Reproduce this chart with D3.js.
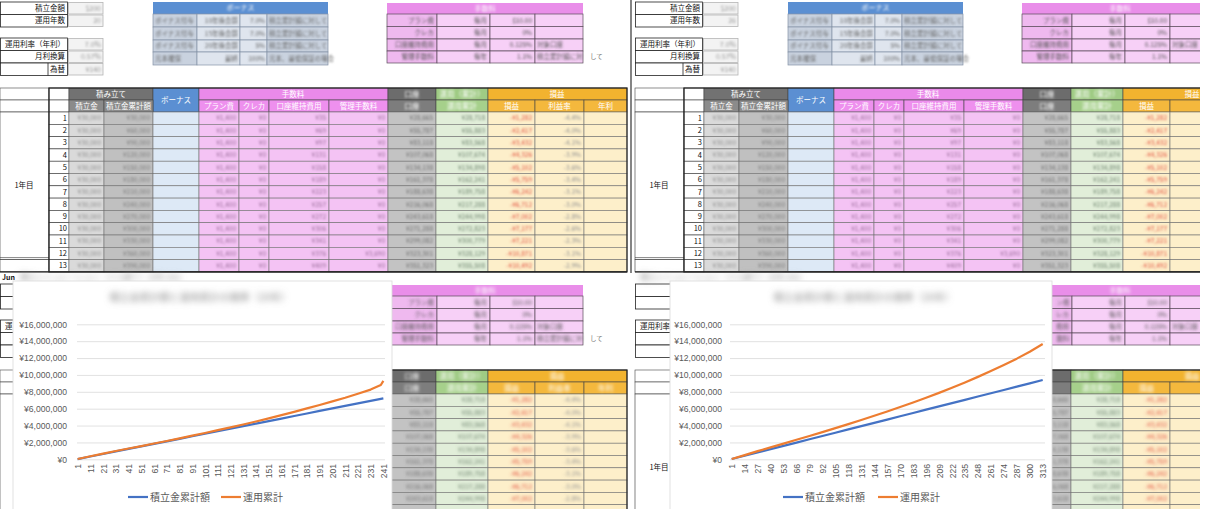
<!DOCTYPE html>
<html><head><meta charset="utf-8">
<script src="https://cdn.jsdelivr.net/npm/d3@7"></script>
<style>
html,body{margin:0;padding:0;background:#fff;overflow:hidden}
svg{display:block;font-family:"Noto Sans CJK JP","Liberation Sans",sans-serif}
</style>
</head><body>
<svg id="c" width="1220" height="509"></svg>
<script>
// ---------- chart data ----------
const yTicks = [0,2000000,4000000,6000000,8000000,10000000,12000000,14000000,16000000];
const seriesNames = ["積立金累計額","運用累計"];
const seriesColors = ["#4472c4","#ed7d31"];

const leftTickLabels = [1,11,21,31,41,51,61,71,81,91,101,111,121,131,141,151,161,171,181,191,201,211,221,231,241];
const leftMonths  = [1,11,21,31,41,51,61,71,81,91,101,111,121,131,141,151,161,171,181,191,201,211,221,231,239,241];
const leftDeposit = [30000,330000,630000,930000,1230000,1530000,1830000,2130000,2430000,2730000,3030000,3330000,3630000,3930000,4230000,4530000,4830000,5130000,5430000,5730000,6030000,6330000,6630000,6930000,7170000,7230000];
const leftInvest  = [30000,360000,670000,980000,1280000,1570000,1870000,2170000,2480000,2800000,3120000,3450000,3780000,4130000,4480000,4850000,5230000,5620000,6030000,6440000,6870000,7300000,7770000,8260000,8800000,9300000];

const rightTickLabels = [1,14,27,40,53,66,79,92,105,118,131,144,157,170,183,196,209,222,235,248,261,274,287,300,313];
const rightMonths  = [1,14,27,40,53,66,79,92,105,118,131,144,157,170,183,196,209,222,235,248,261,274,287,300,313];
const rightDeposit = [30000,420000,810000,1200000,1590000,1980000,2370000,2760000,3150000,3540000,3930000,4320000,4710000,5100000,5490000,5880000,6270000,6660000,7050000,7440000,7830000,8220000,8610000,9000000,9400000];
const rightInvest  = [30000,500000,970000,1410000,1860000,2310000,2760000,3220000,3690000,4170000,4660000,5160000,5670000,6190000,6730000,7290000,7870000,8480000,9110000,9770000,10460000,11180000,11930000,12750000,13660000];

// ---------- spreadsheet texts (background) ----------
const sheetLabels = ["積立金額","運用年数","運用利率（年利）","月利換算","為替"];
const sheetValuesL = ["$200","20","7.0%","0.57%","¥140"];
const sheetValuesR = ["$200","26","7.0%","0.57%","¥140"];
const bonusHead = "ボーナス";
const bonusRows = [["ボイナス付与","10年後合算","7.0%","積立累計額に対して"],["ボイナス付与","15年後合算","7.0%","積立累計額に対して"],["ボイナス付与","20年後合算","5%","積立累計額に対して"],["元本確保","最終","100%","元本、最低保証の場合"]];
const feeHead = "手数料";
const feeRows = [["プラン費","毎月","$10.00",""],["クレカ","毎月","0%",""],["口座維持費用","毎月","0.125%","対象口座"],["管理手数料","毎年","1.1%","積立累計額に対"]];
const head1 = ["積み立て","ボーナス","手数料","口座","運用（累計）","損益"];
const head2 = ["積立金","積立金累計額","プラン費","クレカ","口座維持費用","管理手数料","口座","運用累計","損益","利益率","年利"];
const rowNums = [1,2,3,4,5,6,7,8,9,10,11,12,13];
const colDeposit = ["¥30,000","¥30,000","¥30,000","¥30,000","¥30,000","¥30,000","¥30,000","¥30,000","¥30,000","¥30,000","¥30,000","¥30,000","¥30,000"];
const colCum = ["¥30,000","¥60,000","¥90,000","¥120,000","¥150,000","¥180,000","¥210,000","¥240,000","¥270,000","¥300,000","¥330,000","¥360,000","¥390,000"];
const colPlan = ["¥1,400","¥1,400","¥1,400","¥1,400","¥1,400","¥1,400","¥1,400","¥1,400","¥1,400","¥1,400","¥1,400","¥1,400","¥1,400"];
const colCard = ["¥0","¥0","¥0","¥0","¥0","¥0","¥0","¥0","¥0","¥0","¥0","¥0","¥0"];
const colAcct = ["¥35","¥69","¥97","¥131","¥158","¥189","¥223","¥257","¥272","¥306","¥341","¥376","¥409"];
const colMgmt = ["¥0","¥0","¥0","¥0","¥0","¥0","¥0","¥0","¥0","¥0","¥0","¥3,690","¥0"];
const colBal = ["¥28,665","¥55,787","¥83,118","¥107,068","¥134,138","¥161,378","¥188,638","¥216,068","¥243,618","¥271,288","¥299,082","¥323,301","¥351,323"];
const colRun = ["¥28,718","¥55,883","¥83,568","¥107,674","¥134,898","¥162,241","¥189,758","¥217,288","¥244,998","¥272,823","¥300,779","¥328,129","¥355,508"];
const colPL = ["-¥1,282","-¥2,417","-¥3,432","-¥4,326","-¥5,102","-¥5,759","-¥6,242","-¥6,712","-¥7,002","-¥7,177","-¥7,221","-¥10,871","-¥10,492"];
const colRate = ["-4.4%","-4.0%","-4.1%","-3.9%","-3.6%","-3.4%","-3.1%","-3.0%","-2.8%","-2.6%","-2.3%","-3.1%","-2.9%"];

const svg = d3.select("#c");
const defs = svg.append("defs");
function blurFilter(id, s){
  defs.append("filter").attr("id",id).attr("x","-30%").attr("y","-100%").attr("width","160%").attr("height","300%")
    .append("feGaussianBlur").attr("stdDeviation",s);
}
blurFilter("b1",0.9); blurFilter("b2",1.5); blurFilter("b3",3);

function drawSheet(g, vals, strong){
  const bz = strong ? "url(#b2)" : "url(#b1)";
  const cells = g.append("g");
  const lines = g.append("g");
  const T = g.append("g");
  const B = g.append("g").attr("filter",bz);
  const rect = (x,y,w,h,fill,stroke,sw)=>cells.append("rect").attr("x",x).attr("y",y).attr("width",w).attr("height",h)
      .attr("fill",fill).attr("stroke",stroke||"none").attr("stroke-width",sw||0.6);
  const txt = (layer,x,y,t,size,fill,anchor)=>layer.append("text").attr("x",x).attr("y",y).attr("dy","0.35em")
      .attr("text-anchor",anchor||"start").attr("font-size",size).attr("fill",fill).text(t);

  const lb = [[2,14.5],[14.5,27],[38,50.5],[50.5,63],[63,75.5]];
  lb.forEach((r,i)=>{
    rect(0.5,r[0],67,r[1]-r[0],"#fff","#222",0.8);
    rect(68.5,r[0]+0.5,34.5,r[1]-r[0]-1,"#f3f3f3","#b5b5b5",0.8);
    txt(T,65,(r[0]+r[1])/2,sheetLabels[i],7.5,"#111","end");
    txt(B,101,(r[0]+r[1])/2,vals[i],7,"#999","end");
  });
  lines.append("line").attr("x1",48).attr("x2",48).attr("y1",63).attr("y2",75.5).attr("stroke","#222").attr("stroke-width",0.8);

  const bx=[153,197,240,267,328], by=[2,14,27,40,52,65];
  rect(bx[0],by[0],bx[4]-bx[0],by[1]-by[0],"#5b8fd2");
  txt(B,(bx[0]+bx[4])/2,8,bonusHead,7,"#fff","middle");
  bonusRows.forEach((row,ri)=>{
    for(let c=0;c<4;c++) rect(bx[c],by[ri+1],bx[c+1]-bx[c],by[ri+2]-by[ri+1],(c===1||c===2)?"#dfe5ee":"#c9d2df","#8593a6",0.7);
    const yc=(by[ri+1]+by[ri+2])/2;
    txt(B,bx[0]+2,yc,row[0],6.5,"#666");
    txt(B,bx[2]-2,yc,row[1],6.5,"#666","end");
    txt(B,bx[3]-2,yc,row[2],6.5,"#666","end");
    txt(B,bx[3]+2,yc,row[3],6.5,"#666");
  });

  const px=[387,437,490,535,583], py=[3,14,26.5,39,51,63];
  rect(px[0],py[0],px[4]-px[0],py[1]-py[0],"#e98ee9");
  txt(B,(px[0]+px[4])/2,8.5,feeHead,7,"#fff","middle");
  feeRows.forEach((row,ri)=>{
    for(let c=0;c<4;c++) rect(px[c],py[ri+1],px[c+1]-px[c],py[ri+2]-py[ri+1],c===0?"#efb9ef":"#f7d0f7","#5a4a5a",0.7);
    const yc=(py[ri+1]+py[ri+2])/2;
    txt(B,px[1]-3,yc,row[0],6.5,"#555","end");
    txt(B,px[2]-3,yc,row[1],6.5,"#555","end");
    txt(B,px[3]-3,yc,row[2],6.5,"#555","end");
    if(row[3]) txt(B,px[3]+2,yc,row[3],6.5,"#555");
  });
  txt(T,590,57,"して",6.5,"#777");

  const cx = [0,49,69,104,153,199,239,269,329,388,436,488,535,584,627];
  const yH1=88, yH2=100, y0=112, rh=12.3;
  const yEnd = y0+rh*13;
  const H = strong ? B : T;
  rect(0,yH1,49,yH2-yH1,"#fff","#444"); rect(49,yH1,20,yH2-yH1,"#fff","#444");
  rect(0,yH2,49,y0-yH2,"#fff","#444"); rect(49,yH2,20,y0-yH2,"#fff","#444");
  rect(69,yH1,84,yH2-yH1,"#727272","#444");
  rect(153,yH1,46,y0-yH1,"#5b8fd2","#444");
  rect(199,yH1,189,yH2-yH1,"#ea8aea","#444");
  rect(388,yH1,48,yH2-yH1,"#6c6c6c","#444");
  rect(436,yH1,52,yH2-yH1,"#9fcb84","#444");
  rect(488,yH1,139,yH2-yH1,"#f2b32f","#444");
  const sub = [[69,104,"#8b8b8b"],[104,153,"#8b8b8b"],[199,239,"#ee90ee"],[239,269,"#ee90ee"],[269,329,"#ee90ee"],[329,388,"#ee90ee"],[388,436,"#7d7d7d"],[436,488,"#a6d08b"],[488,535,"#f4b83d"],[535,584,"#f4b83d"],[584,627,"#f4b83d"]];
  sub.forEach(s=>rect(s[0],yH2,s[1]-s[0],y0-yH2,s[2],"#444"));
  const h1pos = [[111,94],[176,100],[293,94],[412,94],[462,94],[557,94]];
  head1.forEach((t,i)=>txt((i===3||i===4)?B:H,h1pos[i][0],h1pos[i][1],t,7.5,"#fff","middle"));
  sub.forEach((s,i)=>txt((i===6||i===7)?B:H,(s[0]+s[1])/2,106,head2[i],7.5,"#fff","middle"));
  const fills = [null,"#ffffff","#dadada","#c0c0c0","#dde9f6","#f4c3f4","#f4c3f4","#f4c3f4","#f4c3f4","#c3c3c3","#e1eed9","#fdefca","#fdefca","#fdefca"];
  const cols = [null,null,colDeposit,colCum,null,colPlan,colCard,colAcct,colMgmt,colBal,colRun,colPL,colRate,null];
  const tcol = [null,null,"#8f8f8f","#7d7d7d",null,"#9a6e9a","#9a6e9a","#9a6e9a","#9a6e9a","#707070","#6f846f","#e2503e","#909090",null];
  rect(0,y0,49,rh*12,"#fff","#333");
  rect(0,y0+rh*12,49,rh,"#fff","#333");
  rowNums.forEach((n,ri)=>{
    const ya = y0+ri*rh;
    for(let c=1;c<14;c++){
      rect(cx[c],ya,cx[c+1]-cx[c],rh,fills[c],c===1?"#333":"#707070");
      if(cols[c]) txt(B,cx[c+1]-3,ya+rh/2,cols[c][ri],6.5,tcol[c],"end");
    }
    txt(T,67,ya+rh/2,n,7.5,"#111","end");
  });
  lines.append("line").attr("x1",0).attr("x2",49).attr("y1",y0+rh*12-2).attr("y2",y0+rh*12-2).attr("stroke","#333").attr("stroke-width",0.6);
  txt(T,24,y0+rh*6,"1年目",7.5,"#111","middle");
  lines.append("rect").attr("x",49).attr("y",yH1).attr("width",627-49).attr("height",yEnd-yH1).attr("fill","none").attr("stroke","#222").attr("stroke-width",1.2);
  lines.append("line").attr("x1",0).attr("x2",627).attr("y1",yEnd).attr("y2",yEnd).attr("stroke","#222").attr("stroke-width",1.2);
}

const chartBoxes = [[13,281,379,240],[670,281,382,240]];
const panels = [
  {ox:0, oy:0, clip:[0,0,631,273], vals:sheetValuesL, strong:false},
  {ox:635, oy:0, clip:[632,0,568,273], vals:sheetValuesR, strong:false},
  {ox:0, oy:282, clip:[0,283,631,226], vals:sheetValuesL, strong:true},
  {ox:635, oy:282, clip:[632,283,568,226], vals:sheetValuesR, strong:true}
];
panels.forEach((p,i)=>{
  defs.append("clipPath").attr("id","cp"+i).append("rect").attr("x",p.clip[0]).attr("y",p.clip[1]).attr("width",p.clip[2]).attr("height",p.clip[3]);
  const outer = svg.append("g").attr("clip-path","url(#cp"+i+")");
  drawSheet(outer.append("g").attr("transform",`translate(${p.ox},${p.oy})`), p.vals, p.strong);
  const [cx0,cy0,cw,ch] = p.clip;
  outer.selectAll("text").each(function(){
    const b = this.getBoundingClientRect();
    const out = b.left < cx0-0.5 || b.right > cx0+cw+0.5 || b.top < cy0-0.5 || b.bottom > cy0+ch+0.5;
    const hidden = chartBoxes.some(c=> b.left>=c[0] && b.right<=c[0]+c[2] && b.top>=c[1] && b.bottom<=c[1]+c[3]);
    if(out || hidden){ this.remove(); return; }
    const c = chartBoxes.find(c=> b.right>c[0]+1.5 && b.left<c[0]+c[2]-1.5 && b.bottom>c[1] && b.top<c[1]+c[3]);
    if(!c) return;
    const sel = d3.select(this);
    let t = sel.text();
    if(b.left < c[0]){
      sel.attr("text-anchor","start").attr("x", b.left - p.ox);
      while(t.length && this.getBoundingClientRect().right > c[0]+1.5){ t=t.slice(0,-1); sel.text(t); }
    } else {
      sel.attr("text-anchor","end").attr("x", b.right - p.ox);
      while(t.length && this.getBoundingClientRect().left < c[0]+c[2]-1.5){ t=t.slice(1); sel.text(t); }
    }
    if(!t.length) this.remove();
  });
});
svg.append("line").attr("x1",631).attr("x2",631).attr("y1",0).attr("y2",273).attr("stroke","#333").attr("stroke-width",1.2);

svg.append("text").attr("x",2).attr("y",280).attr("font-size",7).attr("font-weight","bold").attr("fill","#111").text("Jun");
svg.append("text").attr("x",20).attr("y",280).attr("font-size",8).attr("fill","#888").attr("filter","url(#b3)").text("積立シミュレーション（ドル建て）20年.xlsx");
svg.append("text").attr("x",640).attr("y",280).attr("font-size",8).attr("fill","#888").attr("filter","url(#b3)").text("積立シミュレーション（ドル建て）26年.xlsx");

function drawChart(cfg){
  const g = svg.append("g");
  g.append("rect").attr("x",cfg.box[0]).attr("y",cfg.box[1]).attr("width",cfg.box[2]).attr("height",cfg.box[3])
    .attr("fill","#fff").attr("stroke","#d9d9d9").attr("stroke-width",0.8);
  g.append("text").attr("x",cfg.titleX).attr("y",301).attr("text-anchor","middle").attr("font-size",10).attr("fill","#8c8c8c")
    .attr("filter","url(#b3)").text(cfg.title);
  const x = d3.scaleLinear().domain([0.5, cfg.n+0.5]).range([cfg.x0, cfg.x1]);
  const y = d3.scaleLinear().domain([0,16000000]).range([459.3,324.3]);
  const yAxis = d3.axisLeft(y).tickValues(yTicks).tickSize(-(cfg.gridR-cfg.gridL)).tickPadding(cfg.pad)
    .tickFormat(v=>"¥"+d3.format(",")(v));
  const ya = g.append("g").attr("transform",`translate(${cfg.gridL},0)`).call(yAxis);
  ya.select(".domain").remove();
  ya.selectAll(".tick line").attr("stroke","#d9d9d9").attr("stroke-width",0.8);
  ya.selectAll(".tick text").attr("font-family","'Liberation Sans',sans-serif").attr("font-size",8.6).attr("fill","#595959");
  const xAxis = d3.axisBottom(x).tickValues(cfg.ticks).tickSize(0).tickPadding(0);
  const xa = g.append("g").attr("transform","translate(0,459.3)").call(xAxis);
  xa.select(".domain").remove();
  xa.selectAll(".tick text").attr("transform","translate(0,4.7) rotate(-90)").attr("text-anchor","end")
    .attr("x",0).attr("y",0).attr("dy","0.35em")
    .attr("font-family","'Liberation Sans',sans-serif").attr("font-size",8.6).attr("fill","#595959");
  [cfg.dep, cfg.inv].forEach((s,si)=>{
    const line = d3.line().x((d,i)=>x(cfg.months[i])).y(d=>y(d));
    g.append("path").attr("d",line(s)).attr("fill","none").attr("stroke",seriesColors[si]).attr("stroke-width",2.2).attr("stroke-linejoin","round");
  });
  cfg.legend.forEach((lx,i)=>{
    g.append("line").attr("x1",lx).attr("x2",lx+20).attr("y1",497).attr("y2",497).attr("stroke",seriesColors[i]).attr("stroke-width",2.2);
    g.append("text").attr("x",lx+22).attr("y",497).attr("dy","0.35em").attr("font-size",10).attr("fill","#595959").text(seriesNames[i]);
  });
}
drawChart({box:chartBoxes[0], titleX:200, title:"積立金累計額と運用累計の推移（20年）", n:241, x0:77, x1:384, gridL:77, gridR:385, pad:10,
  ticks:leftTickLabels, months:leftMonths, dep:leftDeposit, inv:leftInvest, legend:[128,221]});
drawChart({box:chartBoxes[1], titleX:864, title:"積立金累計額と運用累計の推移（26年）", n:313, x0:731.2, x1:1043.2, gridL:730, gridR:1045, pad:8,
  ticks:rightTickLabels, months:rightMonths, dep:rightDeposit, inv:rightInvest, legend:[783,878]});
</script>
</body></html>
